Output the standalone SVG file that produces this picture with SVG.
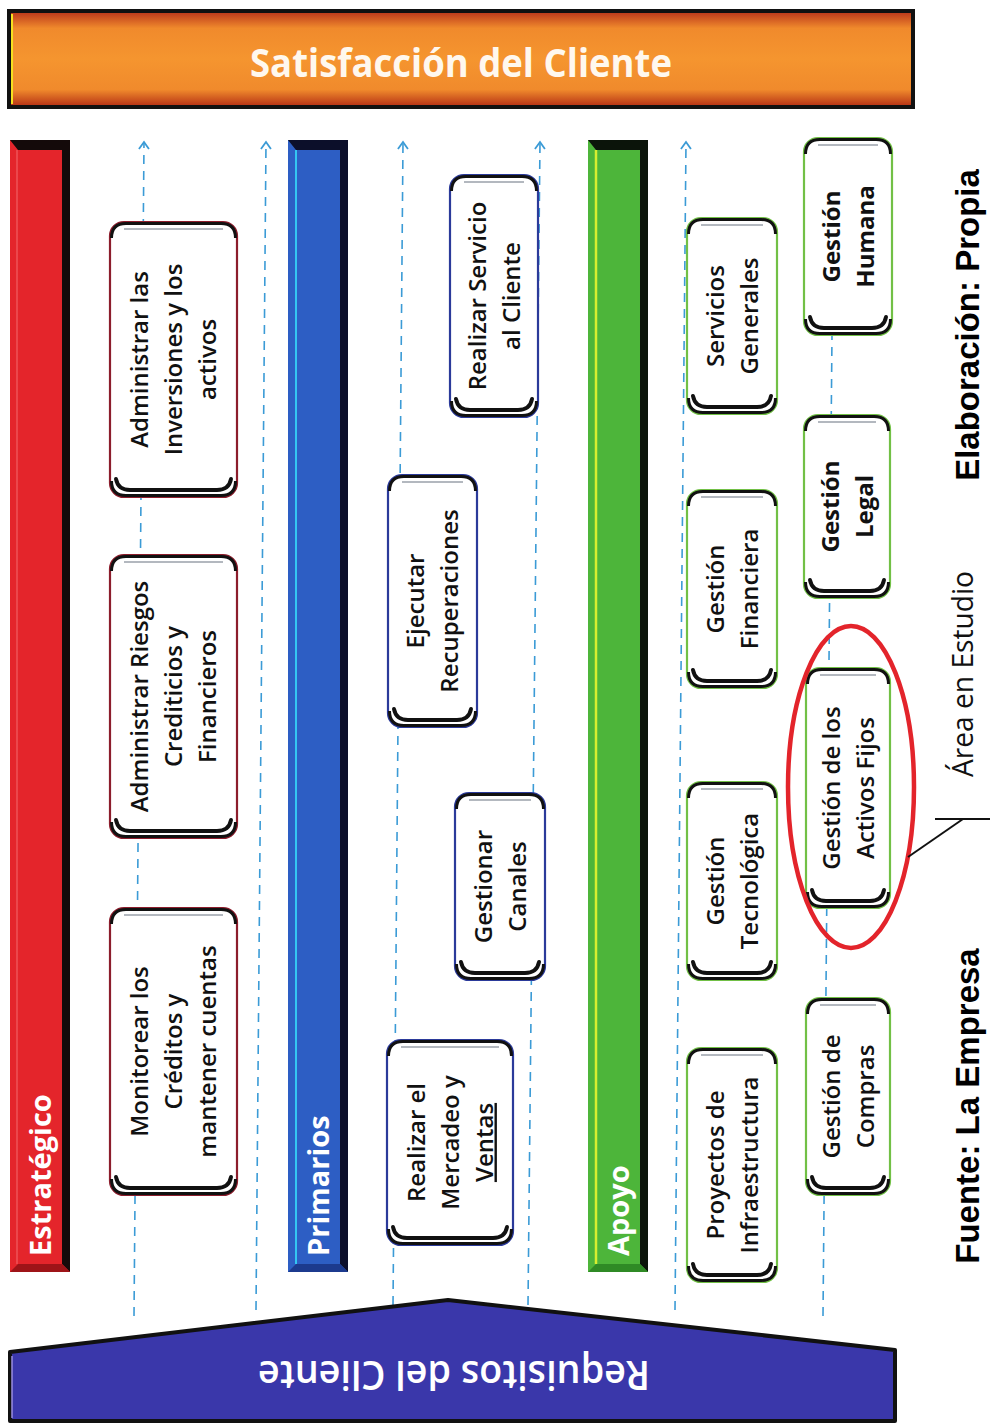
<svg xmlns="http://www.w3.org/2000/svg" width="990" height="1423" viewBox="0 0 990 1423">
<defs>
<style>
.ln{fill:none;stroke:#3b9bd6;stroke-width:1.6;stroke-dasharray:9 7}
.bx{fill:#fff;stroke-width:2.2}
.r{stroke:#8c1d2c}.b{stroke:#2b3a9a}.g{stroke:#72c046}
.tp{fill:none;stroke:#111;stroke-width:3}
.bt{fill:none;stroke:#111;stroke-width:4;stroke-linecap:round}
.gl{stroke:#9aa0aa;stroke-width:1.5}
.t{font-family:"Open Sans","DejaVu Sans",sans-serif;font-weight:600;font-size:24px;fill:#111;text-anchor:middle}
.tb{font-weight:700}
.bar{font-family:"Open Sans","DejaVu Sans",sans-serif;font-weight:700;font-size:29px;fill:#fff}
.ft{font-family:"Liberation Sans",Arial,sans-serif;font-weight:700;font-size:33px;fill:#000;text-anchor:middle}
</style>
<linearGradient id="og" x1="0" y1="0" x2="0" y2="1">
<stop offset="0" stop-color="#b8321a"/>
<stop offset="0.18" stop-color="#f08a2c"/>
<stop offset="0.5" stop-color="#f5952f"/>
<stop offset="0.82" stop-color="#f08a2c"/>
<stop offset="1" stop-color="#b22c14"/>
</linearGradient>
<marker id="ah" viewBox="0 0 12 12" refX="10" refY="6" markerWidth="12" markerHeight="12" markerUnits="userSpaceOnUse" orient="auto">
<path d="M3 1 L10 6 L3 11" fill="none" stroke="#3b9bd6" stroke-width="1.8" stroke-dasharray="none"/>
</marker>
</defs>
<rect width="990" height="1423" fill="#fff"/>

<g id="satisfaccion">
<rect x="9" y="11" width="904" height="96" fill="url(#og)" stroke="#111" stroke-width="4"/>
<line x1="12" y1="14" x2="12" y2="104" stroke="#f6e020" stroke-width="2"/>
<text x="461" y="77" textLength="422" lengthAdjust="spacingAndGlyphs" style="font-family:'Open Sans','DejaVu Sans',sans-serif;font-weight:700;font-size:40px;fill:#fff8ee;text-anchor:middle">Satisfacción del Cliente</text>
</g>

<g id="bar-estrategico">
<rect x="10" y="140" width="60" height="1132" fill="#e4252b"/>
<polygon points="10,140 70,140 70,1272 62,1264 62,150 18,150" fill="#140a0a"/>
<polygon points="10,1272 70,1272 62,1264 18,1264" fill="#9e1418"/>
<line x1="17" y1="150" x2="17" y2="1264" stroke="#ff9a9a" stroke-width="1" opacity="0.6"/>
<text class="bar" transform="translate(51,1256) rotate(-90)">Estratégico</text>
</g>
<g id="bar-primarios">
<rect x="288" y="140" width="60" height="1132" fill="#2d5ec4"/>
<polygon points="288,140 348,140 348,1272 340,1264 340,150 296,150" fill="#0c0f2a"/>
<polygon points="288,1272 348,1272 340,1264 296,1264" fill="#1c3a8e"/>
<line x1="296" y1="150" x2="296" y2="1264" stroke="#34c6f2" stroke-width="2"/>
<text class="bar" transform="translate(329,1256) rotate(-90)">Primarios</text>
</g>
<g id="bar-apoyo">
<rect x="588" y="140" width="60" height="1132" fill="#4db53a"/>
<polygon points="588,140 648,140 648,1272 640,1264 640,150 596,150" fill="#0b140a"/>
<polygon points="588,1272 648,1272 640,1264 596,1264" fill="#2f8a25"/>
<line x1="596" y1="150" x2="596" y2="1264" stroke="#d8ee30" stroke-width="2.5"/>
<text class="bar" transform="translate(629,1256) rotate(-90)">Apoyo</text>
</g>

<g id="connectors">
<line class="ln" x1="134" y1="1316" x2="144" y2="142" marker-end="url(#ah)"/>
<line class="ln" x1="256" y1="1310" x2="266" y2="142" marker-end="url(#ah)"/>
<line class="ln" x1="393" y1="1305" x2="403" y2="142" marker-end="url(#ah)"/>
<line class="ln" x1="528" y1="1305" x2="540" y2="142" marker-end="url(#ah)"/>
<line class="ln" x1="675" y1="1310" x2="686" y2="142" marker-end="url(#ah)"/>
<line class="ln" x1="823" y1="1316" x2="832" y2="335"/>
</g>

<g id="requisitos">
<polygon points="10,1352 448,1300 895,1350 895,1421 10,1421" fill="#3a37aa" stroke="#111" stroke-width="4" stroke-linejoin="round"/>
<line x1="12" y1="1356" x2="12" y2="1418" stroke="#9a8ee0" stroke-width="1.5"/>
<text transform="translate(454,1361) rotate(180)" textLength="392" lengthAdjust="spacingAndGlyphs" style="font-family:'Open Sans','DejaVu Sans',sans-serif;font-weight:600;font-size:40px;fill:#fff;text-anchor:middle">Requisitos del Cliente</text>
</g>

<g id="box-inversiones" transform="translate(110,222)">
<rect class="bx r" width="127" height="275" rx="14"/>
<path class="tp" d="M1.5 16 Q1.5 1.5 16 1.5 H111 Q125.5 1.5 125.5 16"/>
<line class="gl" x1="14" y1="7" x2="113" y2="7"/>
<path class="bt" d="M6 257 Q8 268 20 268 H107 Q119 268 121 257"/>
<path class="tp" d="M1.5 259 Q1.5 273.5 16 273.5 H111 Q125.5 273.5 125.5 259"/>
<text class="t" transform="translate(63.5,137.5) rotate(-90)"><tspan x="0" y="-25.5">Administrar las</tspan><tspan x="0" y="8.5">Inversiones y los</tspan><tspan x="0" y="42.5">activos</tspan></text>
</g>
<g id="box-riesgos" transform="translate(110,555)">
<rect class="bx r" width="127" height="283" rx="14"/>
<path class="tp" d="M1.5 16 Q1.5 1.5 16 1.5 H111 Q125.5 1.5 125.5 16"/>
<line class="gl" x1="14" y1="7" x2="113" y2="7"/>
<path class="bt" d="M6 265 Q8 276 20 276 H107 Q119 276 121 265"/>
<path class="tp" d="M1.5 267 Q1.5 281.5 16 281.5 H111 Q125.5 281.5 125.5 267"/>
<text class="t" transform="translate(63.5,141.5) rotate(-90)"><tspan x="0" y="-25.5">Administrar  Riesgos</tspan><tspan x="0" y="8.5">Crediticios y</tspan><tspan x="0" y="42.5">Financieros</tspan></text>
</g>
<g id="box-monitorear" transform="translate(110,908)">
<rect class="bx r" width="127" height="287" rx="14"/>
<path class="tp" d="M1.5 16 Q1.5 1.5 16 1.5 H111 Q125.5 1.5 125.5 16"/>
<line class="gl" x1="14" y1="7" x2="113" y2="7"/>
<path class="bt" d="M6 269 Q8 280 20 280 H107 Q119 280 121 269"/>
<path class="tp" d="M1.5 271 Q1.5 285.5 16 285.5 H111 Q125.5 285.5 125.5 271"/>
<text class="t" transform="translate(63.5,143.5) rotate(-90)"><tspan x="0" y="-25.5">Monitorear los</tspan><tspan x="0" y="8.5">Créditos y</tspan><tspan x="0" y="42.5">mantener cuentas</tspan></text>
</g>

<g id="box-servicio-cliente" transform="translate(450,175)">
<rect class="bx b" width="88" height="242" rx="14"/>
<path class="tp" d="M1.5 16 Q1.5 1.5 16 1.5 H72 Q86.5 1.5 86.5 16"/>
<line class="gl" x1="14" y1="7" x2="74" y2="7"/>
<path class="bt" d="M6 224 Q8 235 20 235 H68 Q80 235 82 224"/>
<path class="tp" d="M1.5 226 Q1.5 240.5 16 240.5 H72 Q86.5 240.5 86.5 226"/>
<text class="t" transform="translate(44,121) rotate(-90)"><tspan x="0" y="-8.5">Realizar Servicio</tspan><tspan x="0" y="25.5">al Cliente</tspan></text>
</g>
<g id="box-recuperaciones" transform="translate(388,475)">
<rect class="bx b" width="89" height="252" rx="14"/>
<path class="tp" d="M1.5 16 Q1.5 1.5 16 1.5 H73 Q87.5 1.5 87.5 16"/>
<line class="gl" x1="14" y1="7" x2="75" y2="7"/>
<path class="bt" d="M6 234 Q8 245 20 245 H69 Q81 245 83 234"/>
<path class="tp" d="M1.5 236 Q1.5 250.5 16 250.5 H73 Q87.5 250.5 87.5 236"/>
<text class="t" transform="translate(44.5,126) rotate(-90)"><tspan x="0" y="-8.5">Ejecutar</tspan><tspan x="0" y="25.5">Recuperaciones</tspan></text>
</g>
<g id="box-canales" transform="translate(455,793)">
<rect class="bx b" width="90" height="187" rx="14"/>
<path class="tp" d="M1.5 16 Q1.5 1.5 16 1.5 H74 Q88.5 1.5 88.5 16"/>
<line class="gl" x1="14" y1="7" x2="76" y2="7"/>
<path class="bt" d="M6 169 Q8 180 20 180 H70 Q82 180 84 169"/>
<path class="tp" d="M1.5 171 Q1.5 185.5 16 185.5 H74 Q88.5 185.5 88.5 171"/>
<text class="t" transform="translate(45,93.5) rotate(-90)"><tspan x="0" y="-8.5">Gestionar</tspan><tspan x="0" y="25.5">Canales</tspan></text>
</g>
<g id="box-mercadeo" transform="translate(387,1040)">
<rect class="bx b" width="126" height="205" rx="14"/>
<path class="tp" d="M1.5 16 Q1.5 1.5 16 1.5 H110 Q124.5 1.5 124.5 16"/>
<line class="gl" x1="14" y1="7" x2="112" y2="7"/>
<path class="bt" d="M6 187 Q8 198 20 198 H106 Q118 198 120 187"/>
<path class="tp" d="M1.5 189 Q1.5 203.5 16 203.5 H110 Q124.5 203.5 124.5 189"/>
<text class="t" transform="translate(63,102.5) rotate(-90)"><tspan x="0" y="-25.5">Realizar el</tspan><tspan x="0" y="8.5">Mercadeo y</tspan><tspan x="0" y="42.5" text-decoration="underline">Ventas</tspan></text>
</g>

<g id="box-servicios-generales" transform="translate(687,218)">
<rect class="bx g" width="90" height="196" rx="14"/>
<path class="tp" d="M1.5 16 Q1.5 1.5 16 1.5 H74 Q88.5 1.5 88.5 16"/>
<line class="gl" x1="14" y1="7" x2="76" y2="7"/>
<path class="bt" d="M6 178 Q8 189 20 189 H70 Q82 189 84 178"/>
<path class="tp" d="M1.5 180 Q1.5 194.5 16 194.5 H74 Q88.5 194.5 88.5 180"/>
<text class="t" transform="translate(45,98) rotate(-90)"><tspan x="0" y="-8.5">Servicios</tspan><tspan x="0" y="25.5">Generales</tspan></text>
</g>
<g id="box-financiera" transform="translate(687,490)">
<rect class="bx g" width="90" height="198" rx="14"/>
<path class="tp" d="M1.5 16 Q1.5 1.5 16 1.5 H74 Q88.5 1.5 88.5 16"/>
<line class="gl" x1="14" y1="7" x2="76" y2="7"/>
<path class="bt" d="M6 180 Q8 191 20 191 H70 Q82 191 84 180"/>
<path class="tp" d="M1.5 182 Q1.5 196.5 16 196.5 H74 Q88.5 196.5 88.5 182"/>
<text class="t" transform="translate(45,99) rotate(-90)"><tspan x="0" y="-8.5">Gestión</tspan><tspan x="0" y="25.5">Financiera</tspan></text>
</g>
<g id="box-tecnologica" transform="translate(687,782)">
<rect class="bx g" width="90" height="198" rx="14"/>
<path class="tp" d="M1.5 16 Q1.5 1.5 16 1.5 H74 Q88.5 1.5 88.5 16"/>
<line class="gl" x1="14" y1="7" x2="76" y2="7"/>
<path class="bt" d="M6 180 Q8 191 20 191 H70 Q82 191 84 180"/>
<path class="tp" d="M1.5 182 Q1.5 196.5 16 196.5 H74 Q88.5 196.5 88.5 182"/>
<text class="t" transform="translate(45,99) rotate(-90)"><tspan x="0" y="-8.5">Gestión</tspan><tspan x="0" y="25.5">Tecnológica</tspan></text>
</g>
<g id="box-infraestructura" transform="translate(687,1048)">
<rect class="bx g" width="90" height="234" rx="14"/>
<path class="tp" d="M1.5 16 Q1.5 1.5 16 1.5 H74 Q88.5 1.5 88.5 16"/>
<line class="gl" x1="14" y1="7" x2="76" y2="7"/>
<path class="bt" d="M6 216 Q8 227 20 227 H70 Q82 227 84 216"/>
<path class="tp" d="M1.5 218 Q1.5 232.5 16 232.5 H74 Q88.5 232.5 88.5 218"/>
<text class="t" transform="translate(45,117) rotate(-90)"><tspan x="0" y="-8.5">Proyectos de</tspan><tspan x="0" y="25.5">Infraestructura</tspan></text>
</g>
<g id="box-humana" transform="translate(804,138)">
<rect class="bx g" width="88" height="197" rx="14"/>
<path class="tp" d="M1.5 16 Q1.5 1.5 16 1.5 H72 Q86.5 1.5 86.5 16"/>
<line class="gl" x1="14" y1="7" x2="74" y2="7"/>
<path class="bt" d="M6 179 Q8 190 20 190 H68 Q80 190 82 179"/>
<path class="tp" d="M1.5 181 Q1.5 195.5 16 195.5 H72 Q86.5 195.5 86.5 181"/>
<text class="t tb" transform="translate(44,98.5) rotate(-90)"><tspan x="0" y="-8.5">Gestión</tspan><tspan x="0" y="25.5">Humana</tspan></text>
</g>
<g id="box-legal" transform="translate(804,415)">
<rect class="bx g" width="86" height="183" rx="14"/>
<path class="tp" d="M1.5 16 Q1.5 1.5 16 1.5 H70 Q84.5 1.5 84.5 16"/>
<line class="gl" x1="14" y1="7" x2="72" y2="7"/>
<path class="bt" d="M6 165 Q8 176 20 176 H66 Q78 176 80 165"/>
<path class="tp" d="M1.5 167 Q1.5 181.5 16 181.5 H70 Q84.5 181.5 84.5 167"/>
<text class="t tb" transform="translate(43,91.5) rotate(-90)"><tspan x="0" y="-8.5">Gestión</tspan><tspan x="0" y="25.5">Legal</tspan></text>
</g>
<g id="box-activos-fijos" transform="translate(806,668)">
<rect class="bx g" width="84" height="240" rx="14"/>
<path class="tp" d="M1.5 16 Q1.5 1.5 16 1.5 H68 Q82.5 1.5 82.5 16"/>
<line class="gl" x1="14" y1="7" x2="70" y2="7"/>
<path class="bt" d="M6 222 Q8 233 20 233 H64 Q76 233 78 222"/>
<path class="tp" d="M1.5 224 Q1.5 238.5 16 238.5 H68 Q82.5 238.5 82.5 224"/>
<text class="t" transform="translate(42,120) rotate(-90)"><tspan x="0" y="-8.5">Gestión de los</tspan><tspan x="0" y="25.5">Activos Fijos</tspan></text>
</g>
<g id="box-compras" transform="translate(806,998)">
<rect class="bx g" width="84" height="197" rx="14"/>
<path class="tp" d="M1.5 16 Q1.5 1.5 16 1.5 H68 Q82.5 1.5 82.5 16"/>
<line class="gl" x1="14" y1="7" x2="70" y2="7"/>
<path class="bt" d="M6 179 Q8 190 20 190 H64 Q76 190 78 179"/>
<path class="tp" d="M1.5 181 Q1.5 195.5 16 195.5 H68 Q82.5 195.5 82.5 181"/>
<text class="t" transform="translate(42,98.5) rotate(-90)"><tspan x="0" y="-8.5">Gestión de</tspan><tspan x="0" y="25.5">Compras</tspan></text>
</g>

<g id="area-estudio">
<ellipse cx="851" cy="787" rx="63" ry="161" fill="none" stroke="#e3242b" stroke-width="4.5"/>
<polyline points="908,857 963,819" fill="none" stroke="#111" stroke-width="2"/>
<line x1="935" y1="819" x2="990" y2="819" stroke="#111" stroke-width="2"/>
<text transform="translate(973,674) rotate(-90)" textLength="206" lengthAdjust="spacingAndGlyphs" style="font-family:'Open Sans','DejaVu Sans',sans-serif;font-weight:400;font-size:30px;fill:#111;text-anchor:middle">Área en Estudio</text>
</g>

<g id="notas">
<text class="ft" transform="translate(979,325) rotate(-90)">Elaboración: Propia</text>
<text class="ft" transform="translate(979,1106) rotate(-90)">Fuente: La Empresa</text>
</g>
</svg>
